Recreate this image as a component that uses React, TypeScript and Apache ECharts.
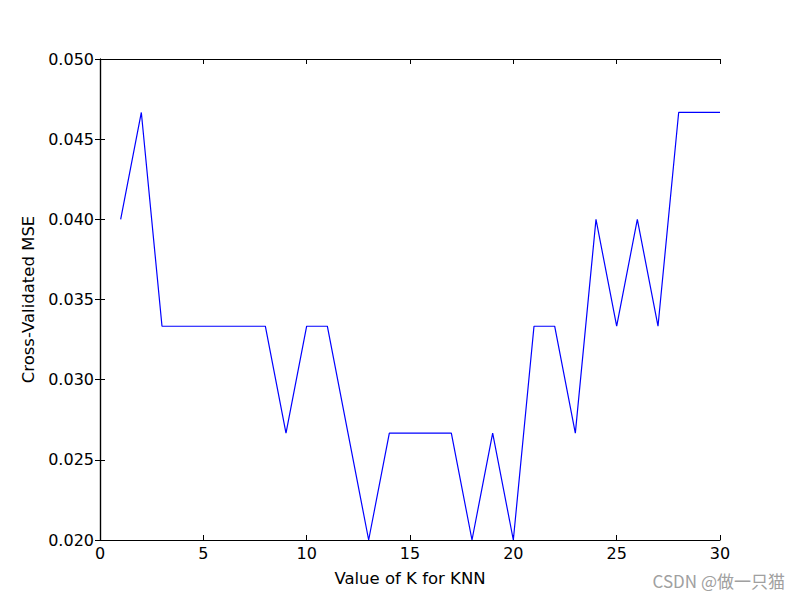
import React, { useEffect, useRef } from "react";
import * as echarts from "echarts";

const kValues = [1, 2, 3, 4, 5, 6, 7, 8, 9, 10, 11, 12, 13, 14, 15, 16, 17, 18, 19, 20, 21, 22, 23, 24, 25, 26, 27, 28, 29, 30];
const mseValues = [
  0.04, 0.046667, 0.033333, 0.033333, 0.033333, 0.033333, 0.033333, 0.033333, 0.026667, 0.033333,
  0.033333, 0.026667, 0.02, 0.026667, 0.026667, 0.026667, 0.026667, 0.02, 0.026667, 0.02,
  0.033333, 0.033333, 0.026667, 0.04, 0.033333, 0.04, 0.033333, 0.046667, 0.046667, 0.046667,
];
const xLabel = "Value of K for KNN";
const yLabel = "Cross-Validated MSE";
const watermark = "CSDN @做一只猫";

const FONT = "DejaVu Sans";

export default function App() {
  const ref = useRef<HTMLDivElement>(null);
  useEffect(() => {
    const chart = echarts.init(ref.current!, null, { renderer: "svg" });
    const tickStyle = { show: true, inside: true, length: 5, lineStyle: { color: "#000", width: 1 } };
    const lineStyle = { show: true, lineStyle: { color: "#000", width: 1.2 } };
    chart.setOption({
      animation: false,
      backgroundColor: "#fff",
      grid: { left: 100, right: 80, top: 59, bottom: 60 },
      xAxis: [
        {
          type: "value",
          min: 0,
          max: 30,
          interval: 5,
          position: "bottom",
          axisLine: lineStyle,
          axisTick: tickStyle,
          splitLine: { show: false },
          axisLabel: { color: "#000", fontFamily: FONT, fontSize: 16, margin: 5 },
          name: xLabel,
          nameLocation: "middle",
          nameGap: 30,
          nameTextStyle: { color: "#000", fontFamily: FONT, fontSize: 16.5 },
        },
        {
          type: "value",
          min: 0,
          max: 30,
          interval: 5,
          position: "top",
          axisLine: lineStyle,
          axisTick: tickStyle,
          splitLine: { show: false },
          axisLabel: { show: false },
        },
      ],
      yAxis: [
        {
          type: "value",
          min: 0.02,
          max: 0.05,
          interval: 0.005,
          position: "left",
          axisLine: lineStyle,
          axisTick: tickStyle,
          splitLine: { show: false },
          axisLabel: {
            color: "#000",
            fontFamily: FONT,
            fontSize: 16,
            margin: 6,
            formatter: (v: number) => v.toFixed(3),
          },
          name: yLabel,
          nameLocation: "middle",
          nameGap: 63,
          nameRotate: 90,
          nameTextStyle: { color: "#000", fontFamily: FONT, fontSize: 16.5 },
        },
        {
          type: "value",
          min: 0.02,
          max: 0.05,
          interval: 0.005,
          position: "right",
          axisLine: lineStyle,
          axisTick: tickStyle,
          splitLine: { show: false },
          axisLabel: { show: false },
        },
      ],
      series: [
        {
          type: "line",
          data: kValues.map((k, i) => [k, mseValues[i]]),
          showSymbol: false,
          lineStyle: { color: "#0000ff", width: 1.2 },
          clip: true,
        },
      ],
      graphic: [
        {
          type: "text",
          right: 15,
          top: 572,
          style: {
            text: watermark,
            fill: "#a0a0a0",
            fontFamily: "Noto Sans CJK SC",
            fontSize: 17,
          },
        },
      ],
    });
    return () => chart.dispose();
  }, []);
  return <div ref={ref} style={{ width: 800, height: 600, position: "absolute", left: 0, top: 0 }} />;
}
